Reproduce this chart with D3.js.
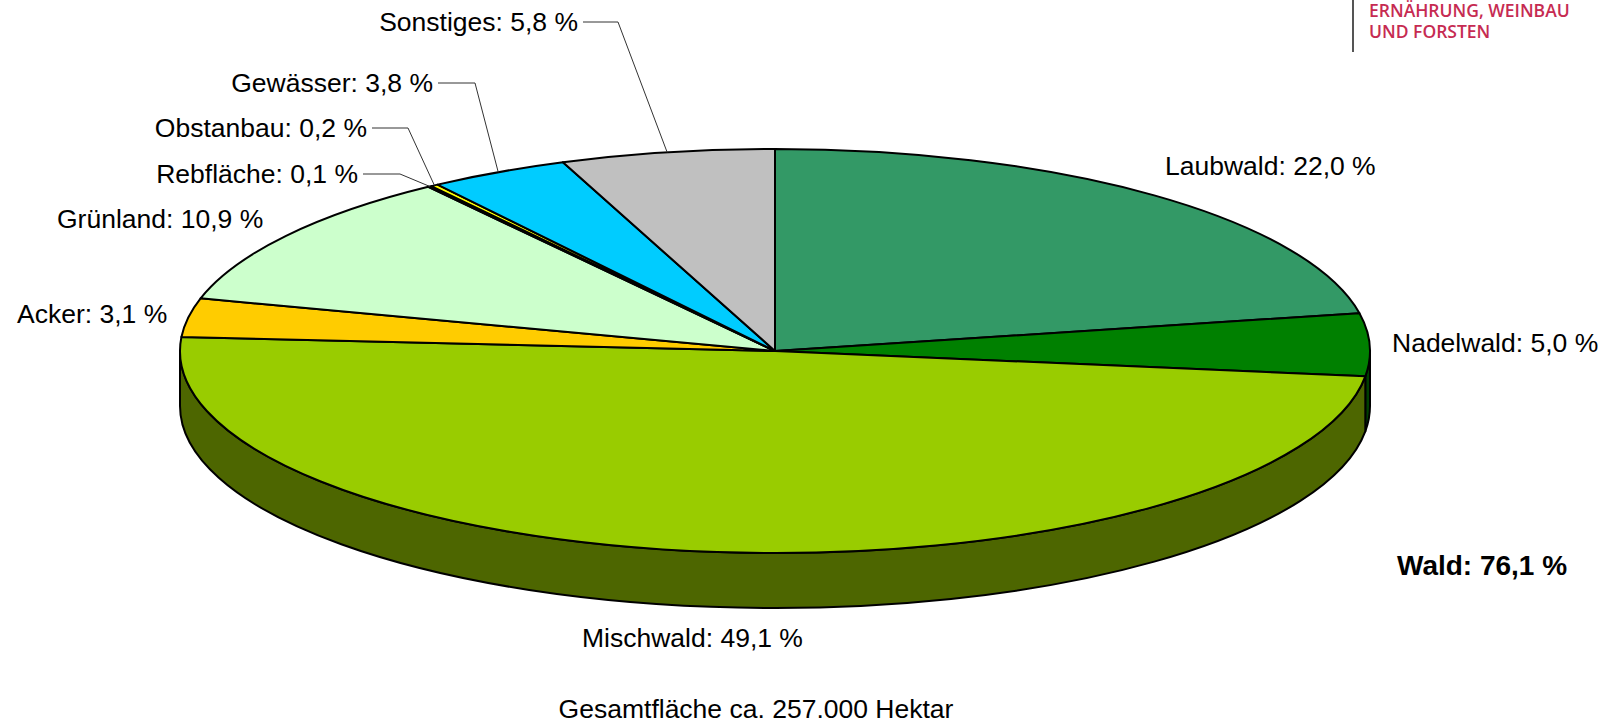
<!DOCTYPE html>
<html>
<head>
<meta charset="utf-8">
<script src="https://cdn.jsdelivr.net/npm/d3@7"></script>
<style>
  html, body { margin: 0; padding: 0; background: #fff; }
  svg { display: block; }
  text { font-family: "Liberation Sans", Arial, sans-serif; fill: #000; }
</style>
</head>
<body>
<div id="chart"></div>
<script>
// data
const categories = ["Laubwald", "Nadelwald", "Mischwald", "Acker", "Grünland", "Rebfläche", "Obstanbau", "Gewässer", "Sonstiges"];
const shares = [22.0, 5.0, 49.1, 3.1, 10.9, 0.1, 0.2, 3.8, 5.8];
const topColors = ["#339966", "#008000", "#99CC00", "#FFCC00", "#CCFFCC", "#663300", "#FFFF00", "#00CCFF", "#C0C0C0"];
const sideColors = ["#1A4D33", "#004000", "#4D6600", "#806600", "#668066", "#331A00", "#808000", "#006680", "#606060"];
const waldShare = 76.1;
const totalText = "Gesamtfläche ca. 257.000 Hektar";
const logoLines = ["ERNÄHRUNG, WEINBAU", "UND FORSTEN"];

// layout
const width = 1610, height = 724;
const cx = 775, cy = 351, rx = 595, ry = 202, depth = 55;

// label placement (x, baseline y, anchor) + leader line elbows for the small slices
const labelPos = {
  "Laubwald":  { x: 1165, y: 175, anchor: "start" },
  "Nadelwald": { x: 1392, y: 352, anchor: "start" },
  "Mischwald": { x: 582,  y: 647, anchor: "start" },
  "Acker":     { x: 17,   y: 323, anchor: "start" },
  "Grünland":  { x: 57,   y: 228, anchor: "start" },
  "Rebfläche": { x: 358,  y: 183, anchor: "end", lead: [[363, 174], [400, 174]] },
  "Obstanbau": { x: 367,  y: 137, anchor: "end", lead: [[372, 128], [408, 128]] },
  "Gewässer":  { x: 433,  y: 92,  anchor: "end", lead: [[438, 83], [475, 83]] },
  "Sonstiges": { x: 578,  y: 31,  anchor: "end", lead: [[583, 22], [618, 22]] }
};

const fmt = v => d3.format(".1f")(v).replace(".", ",") + " %";

const svg = d3.select("#chart")
  .append("svg")
  .attr("width", width)
  .attr("height", height);

const pie = d3.pie()
  .sort(null)
  .value(d => d.value);

const data = categories.map((c, i) => ({ name: c, value: shares[i], top: topColors[i], side: sideColors[i] }));
const arcs = pie(data);

// point on the top ellipse at pie angle a
const pt = (a, dy = 0) => [cx + rx * Math.sin(a), cy - ry * Math.cos(a) + dy];

// side walls (front half only)
const sideArcs = arcs
  .map(d => ({ d, s: Math.max(d.startAngle, Math.PI / 2), e: Math.min(d.endAngle, Math.PI * 3 / 2) }))
  .filter(o => o.e > o.s);

svg.append("g")
  .selectAll("path")
  .data(sideArcs)
  .enter()
  .append("path")
  .attr("d", o => {
    const p0 = pt(o.s), p1 = pt(o.e), q1 = pt(o.e, depth), q0 = pt(o.s, depth);
    return `M${p0}A${rx},${ry} 0 0 1 ${p1}L${q1}A${rx},${ry} 0 0 0 ${q0}Z`;
  })
  .attr("fill", o => o.d.data.side)
  .attr("stroke", "#000")
  .attr("stroke-width", 2)
  .attr("stroke-linejoin", "round");

// top face: circle arcs squashed into the ellipse
const arc = d3.arc()
  .innerRadius(0)
  .outerRadius(rx);

svg.append("g")
  .attr("transform", `translate(${cx},${cy}) scale(1,${ry / rx})`)
  .selectAll("path")
  .data(arcs)
  .enter()
  .append("path")
  .attr("d", arc)
  .attr("fill", d => d.data.top)
  .attr("stroke", "#000")
  .attr("stroke-width", 2)
  .attr("stroke-linejoin", "round")
  .attr("vector-effect", "non-scaling-stroke");

// leader lines
const line = d3.line();
svg.append("g")
  .selectAll("path")
  .data(arcs.filter(d => labelPos[d.data.name].lead))
  .enter()
  .append("path")
  .attr("d", d => {
    const mid = (d.startAngle + d.endAngle) / 2;
    return line([...labelPos[d.data.name].lead, pt(mid)]);
  })
  .attr("fill", "none")
  .attr("stroke", "#333")
  .attr("stroke-width", 1);

// labels
svg.append("g")
  .selectAll("text")
  .data(arcs)
  .enter()
  .append("text")
  .attr("x", d => labelPos[d.data.name].x)
  .attr("y", d => labelPos[d.data.name].y)
  .attr("text-anchor", d => labelPos[d.data.name].anchor)
  .style("font-size", "26.5px")
  .text(d => `${d.data.name}: ${fmt(d.data.value)}`);

svg.append("text")
  .attr("x", 1397)
  .attr("y", 575)
  .style("font-size", "28px")
  .style("font-weight", "bold")
  .text(`Wald: ${fmt(waldShare)}`);

svg.append("text")
  .attr("x", 756)
  .attr("y", 718)
  .attr("text-anchor", "middle")
  .style("font-size", "26.5px")
  .text(totalText);

// logo fragment top right
svg.append("line")
  .attr("x1", 1353).attr("x2", 1353)
  .attr("y1", 0).attr("y2", 52)
  .attr("stroke", "#555")
  .attr("stroke-width", 2);

svg.append("g")
  .selectAll("text")
  .data(logoLines)
  .enter()
  .append("text")
  .attr("x", 1369)
  .attr("y", (d, i) => 17 + i * 21)
  .style("font-family", "'Open Sans', sans-serif")
  .style("font-size", "17.5px")
  .style("font-weight", "600")
  .style("fill", "#C62B52")
  .text(d => d);
</script>
</body>
</html>
